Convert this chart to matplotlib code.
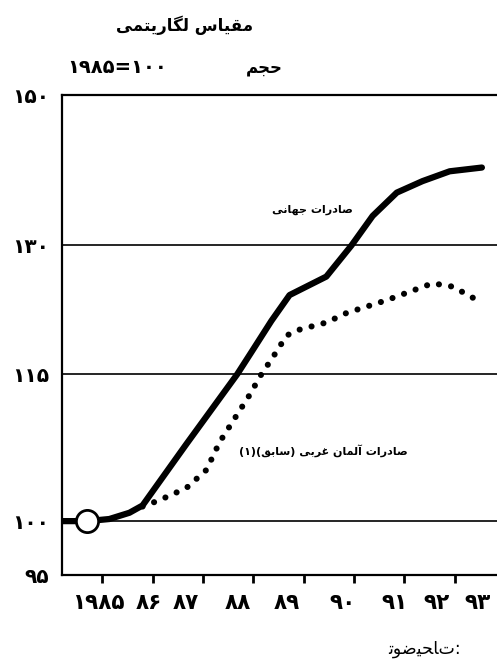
import matplotlib
matplotlib.use('Agg')
import matplotlib.pyplot as plt
from matplotlib.ticker import FixedLocator, NullFormatter, NullLocator

plt.rcParams['font.family'] = ['DejaVu Sans']

# data (x in years, y = volume index, 1985 = 100)
world_x = [1985.18, 1985.70, 1986.14, 1986.54, 1986.80, 1987.67, 1988.68, 1988.98,
           1989.36, 1989.72, 1990.45, 1990.95, 1991.37, 1991.85, 1992.36, 1992.90, 1993.54]
world_y = [100.0, 100.0, 100.2, 100.8, 101.5, 107.6, 115.0, 117.6,
           121.0, 124.0, 126.2, 130.0, 133.7, 136.7, 138.2, 139.5, 140.0]

wg_x = [1986.80, 1987.13, 1987.67, 1988.07, 1988.33, 1988.92, 1989.16, 1989.38,
        1989.66, 1989.86, 1990.45, 1990.85, 1991.65, 1992.56, 1992.96, 1993.54]
wg_y = [101.4, 102.0, 103.2, 105.0, 107.8, 112.7, 115.0, 116.8,
        119.3, 119.9, 120.8, 121.9, 123.4, 125.4, 125.0, 123.1]

base_x, base_y = 1985.70, 100.0

y_ticks = [95, 100, 115, 130, 150]
grid_vals = [100, 115, 130]
years = [1985, 1986, 1987, 1988, 1989, 1990, 1991, 1992, 1993]
year_ticks = [1986, 1987, 1988, 1989, 1990, 1991, 1992, 1993]

# where the printed year labels sit (layout only)
label_x = [1985.92, 1986.93, 1987.65, 1988.70, 1989.66, 1990.77, 1991.80, 1992.64, 1993.46]

FA = str.maketrans('0123456789', '۰۱۲۳۴۵۶۷۸۹')

def fa(v):
    return str(v).translate(FA)

# isolated, final, initial, medial presentation forms
FORMS = {
    'ا': ('\uFE8D', '\uFE8E', None, None),
    'آ': ('\uFE81', '\uFE82', None, None),
    'ب': ('\uFE8F', '\uFE90', '\uFE91', '\uFE92'),
    'ت': ('\uFE95', '\uFE96', '\uFE97', '\uFE98'),
    'ج': ('\uFE9D', '\uFE9E', '\uFE9F', '\uFEA0'),
    'ح': ('\uFEA1', '\uFEA2', '\uFEA3', '\uFEA4'),
    'د': ('\uFEA9', '\uFEAA', None, None),
    'ر': ('\uFEAD', '\uFEAE', None, None),
    'س': ('\uFEB1', '\uFEB2', '\uFEB3', '\uFEB4'),
    'ص': ('\uFEB9', '\uFEBA', '\uFEBB', '\uFEBC'),
    'ض': ('\uFEBD', '\uFEBE', '\uFEBF', '\uFEC0'),
    'غ': ('\uFECD', '\uFECE', '\uFECF', '\uFED0'),
    'ق': ('\uFED5', '\uFED6', '\uFED7', '\uFED8'),
    'ل': ('\uFEDD', '\uFEDE', '\uFEDF', '\uFEE0'),
    'م': ('\uFEE1', '\uFEE2', '\uFEE3', '\uFEE4'),
    'ن': ('\uFEE5', '\uFEE6', '\uFEE7', '\uFEE8'),
    'ه': ('\uFEE9', '\uFEEA', '\uFEEB', '\uFEEC'),
    'و': ('\uFEED', '\uFEEE', None, None),
    'ی': ('\uFBFC', '\uFBFD', '\uFBFE', '\uFBFF'),
    'گ': ('\uFB92', '\uFB93', '\uFB94', '\uFB95'),
}

def shape(s, rtl=True):
    out = []
    for i, c in enumerate(s):
        if c not in FORMS:
            out.append(c)
            continue
        iso, fin, ini, med = FORMS[c]
        prev = s[i - 1] if i > 0 else ''
        nxt = s[i + 1] if i + 1 < len(s) else ''
        jp = prev in FORMS and FORMS[prev][2] is not None
        jn = ini is not None and nxt in FORMS
        if jp and jn:
            out.append(med)
        elif jp:
            out.append(fin)
        elif jn:
            out.append(ini)
        else:
            out.append(iso)
    if not rtl:
        return ''.join(out)
    vis = ''.join(reversed(out))
    return vis.translate(str.maketrans('()', ')('))

fig = plt.figure(figsize=(4.97, 6.66), dpi=100)
ax = fig.add_axes([0.1247, 0.1366, 0.8753, 0.7207])

ax.set_yscale('log')
ax.set_ylim(95, 150)
ax.set_xlim(1985.2, 1993.84)

for g in grid_vals:
    ax.axhline(g, color='black', lw=1.2, zorder=1)

ax.plot(world_x, world_y, color='black', lw=4.5, solid_capstyle='round',
        solid_joinstyle='round', zorder=3)
ax.plot(wg_x, wg_y, color='black', lw=4.4, linestyle=(0, (0.01, 2.0)),
        dash_capstyle='round', zorder=3)
ax.plot(base_x, base_y, 'o', ms=16, mfc='white', mec='black', mew=2, zorder=4)

ax.spines['right'].set_visible(False)
for s in ['left', 'bottom', 'top']:
    ax.spines[s].set_linewidth(1.6)

ax.yaxis.set_major_locator(FixedLocator(y_ticks))
ax.yaxis.set_minor_locator(NullLocator())
ax.yaxis.set_minor_formatter(NullFormatter())
ax.set_yticklabels([fa(v) for v in y_ticks], fontsize=14.5, fontweight='bold')
ax.tick_params(axis='y', length=0, pad=9)

ax.set_xticks(year_ticks)
ax.set_xticklabels([])
ax.tick_params(axis='x', which='major', direction='out', length=6, width=2)
ax.set_xticks(label_x, minor=True)
ax.set_xticklabels([fa(y) if i == 0 else fa(y)[2:] for i, y in enumerate(years)],
                   minor=True, fontsize=15.5, fontweight='bold')
ax.tick_params(axis='x', which='minor', length=0, pad=13)

fig.text(0.372, 0.962, shape('مقیاس لگاریتمی'), fontsize=12, fontweight='bold',
         ha='center', va='center')
fig.text(0.235, 0.898, fa(1985) + '=' + fa(100), fontsize=14, fontweight='bold',
         ha='center', va='center')
fig.text(0.531, 0.898, shape('حجم'), fontsize=12, fontweight='bold',
         ha='center', va='center')
fig.text(0.628, 0.685, shape('صادرات جهانی'), fontsize=8, fontweight='bold',
         ha='center', va='center')
fig.text(0.650, 0.323, shape('صادرات آلمان غربی (سابق)(۱)'), fontsize=8,
         fontweight='bold', ha='center', va='center')
fig.text(0.853, 0.026, shape('توضیحات', rtl=False) + ':', fontsize=12.5,
         ha='center', va='center')

fig.savefig('out.png', dpi=100)
